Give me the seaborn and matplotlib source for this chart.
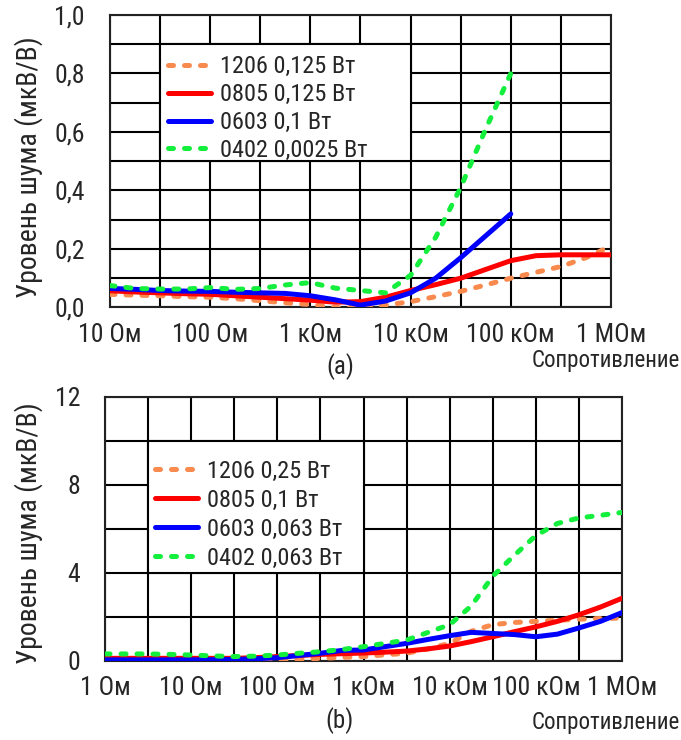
import os
import numpy as np
import pandas as pd
import matplotlib
matplotlib.use("Agg")
import matplotlib.pyplot as plt
import matplotlib.ticker as mticker
from matplotlib.patches import Rectangle
from matplotlib import font_manager as fm
import seaborn as sns

# ---------------- data ----------------
# top chart (a): resistance in Ohm
r_top = [10, 17.8, 31.6, 56.2, 100, 178, 316, 562, 1000, 1780, 3160, 5620,
         10000, 17800, 31600, 56200, 100000, 178000, 316000, 562000, 1000000]
top_1206 = [0.045, 0.042, 0.040, 0.037, 0.035, 0.030, 0.023, 0.016, 0.010, 0.000, 0.000,
            0.008, 0.020, 0.037, 0.055, 0.077, 0.100, 0.120, 0.140, 0.170, 0.210]
top_0805 = [0.057, 0.053, 0.050, 0.047, 0.045, 0.040, 0.035, 0.030, 0.025, 0.018, 0.020,
            0.035, 0.058, 0.078, 0.100, 0.130, 0.160, 0.177, 0.180, 0.180, 0.180]
top_0603 = [0.065, 0.062, 0.058, 0.056, 0.055, 0.052, 0.050, 0.048, 0.040, 0.026, 0.008,
            0.022, 0.050, 0.100, 0.170, 0.245, 0.320]
top_0402 = [0.075, 0.065, 0.063, 0.063, 0.068, 0.062, 0.065, 0.077, 0.085, 0.066, 0.058,
            0.050, 0.110, 0.240, 0.410, 0.610, 0.800]
top_labels = ["1206 0,125 Вт", "0805 0,125 Вт", "0603 0,1 Вт", "0402 0,0025 Вт"]

# bottom chart (b)
r_bot = [1, 1.78, 3.16, 5.62, 10, 17.8, 31.6, 56.2, 100, 178, 316, 562, 1000, 1780, 3160,
         5620, 10000, 17800, 31600, 56200, 100000, 178000, 316000, 562000, 1000000]
bot_1206 = [0.0, 0.0, 0.0, 0.0, 0.0, 0.0, 0.0, 0.02, 0.05, 0.08, 0.12, 0.16, 0.20, 0.28,
            0.35, 0.55, 0.80, 1.35, 1.65, 1.75, 1.80, 1.85, 1.90, 1.93, 1.95]
bot_0805 = [0.12, 0.12, 0.12, 0.12, 0.12, 0.12, 0.12, 0.15, 0.20, 0.25, 0.30, 0.33, 0.36,
            0.40, 0.45, 0.55, 0.68, 0.88, 1.10, 1.33, 1.55, 1.80, 2.10, 2.45, 2.85]
bot_0603 = [0.05, 0.05, 0.05, 0.05, 0.05, 0.06, 0.07, 0.10, 0.15, 0.25, 0.35, 0.48, 0.50,
            0.65, 0.80, 0.98, 1.15, 1.30, 1.25, 1.20, 1.10, 1.22, 1.50, 1.80, 2.20]
bot_0402 = [0.32, 0.32, 0.32, 0.30, 0.27, 0.23, 0.20, 0.22, 0.27, 0.35, 0.42, 0.52, 0.65,
            0.80, 0.95, 1.30, 1.65, 2.50, 3.85, 4.80, 5.70, 6.25, 6.50, 6.62, 6.75]
bot_labels = ["1206 0,25 Вт", "0805 0,1 Вт", "0603 0,063 Вт", "0402 0,063 Вт"]

top_xticks = [10, 100, 1000, 10000, 100000, 1000000]
top_xticklabels = ["10 Ом", "100 Ом", "1 кОм", "10 кОм", "100 кОм", "1 МОм"]
bot_xticks = [1, 10, 100, 1000, 10000, 100000, 1000000]
bot_xticklabels = ["1 Ом", "10 Ом", "100 Ом", "1 кОм", "10 кОм", "100 кОм", "1 МОм"]

ylabel = "Уровень шума (мкВ/В)"
xlabel = "Сопротивление"

colors = ["#F98A4E", "#FF0000", "#0000FF", "#14EE3C"]
dash_styles = [(1, 2.2), "", "", (1, 2.2)]

# ---------------- font: look for a narrow face ----------------
sns.set_style("white")


def pick_narrow_font():
    files = [f.fname for f in fm.fontManager.ttflist]
    files += fm.findSystemFonts()
    files = sorted(set(files))
    prefs = ["liberationsansnarrow-regular", "robotocondensed-regular",
             "roboto_condensed-regular", "notosans-condensed.", "notosans-condensedregular",
             "dejavusanscondensed.", "opensans-condensedregular",
             "opensans_condensed-regular", "opensans-condensed-regular"]
    low = [(os.path.basename(p).lower(), p) for p in files]
    for pref in prefs:
        for b, p in low:
            if b.startswith(pref):
                return p
    bad = ("bold", "italic", "oblique", "light", "thin", "black", "medium", "semi",
           "extra", "mono", "serif", "cjk")
    for b, p in low:
        if ("condensed" in b or "narrow" in b) and not any(w in b for w in bad):
            return p
    return None


narrow = pick_narrow_font()
if narrow is not None:
    fm.fontManager.addfont(narrow)
    fam = fm.FontProperties(fname=narrow).get_name()
    plt.rcParams["font.family"] = [fam, "DejaVu Sans"]
    base = "narrow"
else:
    plt.rcParams["font.family"] = ["DejaVu Sans"]
    base = "wide"


def make_fp(size):
    if narrow is not None:
        return fm.FontProperties(fname=narrow, size=size)
    return fm.FontProperties(family="DejaVu Sans", size=size)


if base == "narrow":
    FS_TICK, FS_LEG, FS_YLAB, FS_SUB, FS_XLAB = 18.5, 17.5, 20.0, 18.0, 16.5
else:
    FS_TICK, FS_LEG, FS_YLAB, FS_SUB, FS_XLAB = 14, 14, 15, 14, 12.5

fig = plt.figure(figsize=(6.81, 7.40), dpi=100)
ax1 = fig.add_axes([0.1615, 0.5845, 0.7357, 0.3953])
ax2 = fig.add_axes([0.1542, 0.1068, 0.7592, 0.3568])

LW = 3.6


def draw(ax, xs, series, labels, xlo, xhi, ylo, yhi, ymaj, ymin, xticks, xticklabels,
         yfmt, rect, leg_anchor, leg_spacing):
    frames = []
    for lab, ys in zip(labels, series):
        frames.append(pd.DataFrame({"R": xs[:len(ys)], "V": ys, "s": lab}))
    df = pd.concat(frames, ignore_index=True)
    sns.lineplot(data=df, x="R", y="V", hue="s", style="s", hue_order=labels,
                 style_order=labels, palette=dict(zip(labels, colors)),
                 dashes=dict(zip(labels, dash_styles)), sort=False, ax=ax,
                 linewidth=LW, legend=False, errorbar=None)
    lines = ax.get_lines()
    for ln in lines:
        ln.set_dash_capstyle("round")
        ln.set_solid_capstyle("round")
        ln.set_solid_joinstyle("round")
        ln.set_zorder(3)
    ax.set_xscale("log")
    ax.set_xlim(xlo, xhi)
    ax.set_ylim(ylo, yhi)
    ax.set_xticks(xticks)
    ax.set_xticklabels(xticklabels)
    half = [t * 10 ** 0.5 for t in xticks[:-1]]
    ax.xaxis.set_minor_locator(mticker.FixedLocator(half))
    ax.xaxis.set_minor_formatter(mticker.NullFormatter())
    ax.yaxis.set_major_locator(mticker.MultipleLocator(ymaj))
    ax.yaxis.set_minor_locator(mticker.MultipleLocator(ymin))
    ax.yaxis.set_major_formatter(mticker.FuncFormatter(yfmt))
    ax.set_axisbelow(True)
    ax.grid(True, which="both", color="black", linewidth=1.5)
    ax.tick_params(which="both", length=0)
    ax.tick_params(axis="x", pad=11)
    ax.tick_params(axis="y", pad=18)
    for t in ax.get_xticklabels() + ax.get_yticklabels():
        t.set_fontproperties(make_fp(FS_TICK))
    for sp in ax.spines.values():
        sp.set_color("#222222")
        sp.set_linewidth(1.5)
    ax.set_xlabel("")
    ax.set_ylabel("")
    ax.add_patch(Rectangle(rect[0], rect[1], rect[2], transform=ax.transAxes,
                           facecolor="white", edgecolor="black", linewidth=1.5,
                           zorder=1.5))
    leg = ax.legend(lines, labels, loc="upper left", bbox_to_anchor=leg_anchor,
                    frameon=False, prop=make_fp(FS_LEG), handlelength=1.75,
                    handletextpad=0.4, labelspacing=leg_spacing, borderpad=0,
                    borderaxespad=0)
    leg.set_zorder(5)


draw(ax1, r_top, [top_1206, top_0805, top_0603, top_0402], top_labels,
     10, 1e6, 0, 1.0, 0.2, 0.1, top_xticks, top_xticklabels,
     lambda v, p: f"{v:.1f}".replace(".", ","),
     ((0.1, 0.5), 0.5, 0.4), (0.116, 0.862), 0.2)

draw(ax2, r_bot, [bot_1206, bot_0805, bot_0603, bot_0402], bot_labels,
     1, 1e6, 0, 12, 4, 2, bot_xticks, bot_xticklabels,
     lambda v, p: f"{v:.0f}",
     ((1 / 12, 1 / 3), 5 / 12, 0.5), (0.097, 0.763), 0.25)

fig.text(0.042, 0.774, ylabel, rotation=90, ha="center", va="center",
         fontproperties=make_fp(FS_YLAB))
fig.text(0.042, 0.280, ylabel, rotation=90, ha="center", va="center",
         fontproperties=make_fp(FS_YLAB))
fig.text(0.499, 0.505, "(a)", ha="center", va="center", fontproperties=make_fp(FS_SUB))
fig.text(0.9985, 0.5125, xlabel, ha="right", va="center", fontproperties=make_fp(FS_XLAB))
fig.text(0.499, 0.026, "(b)", ha="center", va="center", fontproperties=make_fp(FS_SUB))
fig.text(0.9985, 0.0235, xlabel, ha="right", va="center", fontproperties=make_fp(FS_XLAB))

fig.savefig("out.png", dpi=100, facecolor="white")
